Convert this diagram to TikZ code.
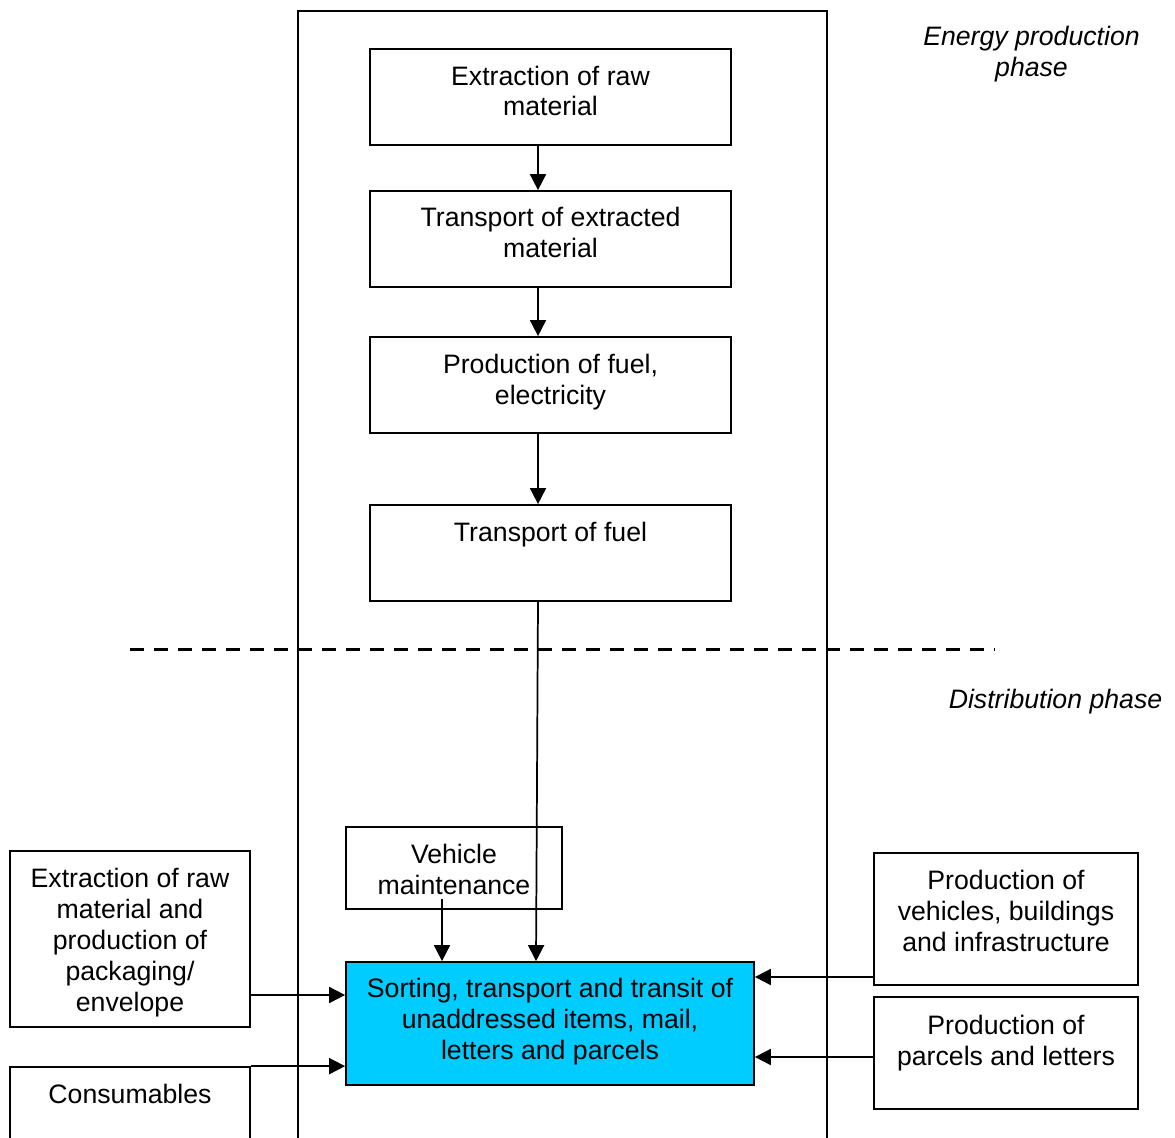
\documentclass[tikz,border=0pt]{standalone}
\usepackage{fontspec}
\setmainfont{Liberation Sans}
\usetikzlibrary{arrows.meta,fit}
\definecolor{cyanbox}{HTML}{00CCFF}
\begin{document}
\begin{tikzpicture}[x=0.75pt,y=-0.75pt,
  box/.style={draw, line width=1.3pt, inner sep=0pt},
  txt/.style={align=center, inner sep=0pt, font=\fontsize{20}{23.25}\selectfont, anchor=base},
  lbl/.style={align=center, inner sep=0pt, font=\fontsize{20}{23.25}\selectfont\itshape, anchor=base},
  arr/.style={line width=1.3pt, -{Triangle[length=12pt,width=12pt]}},
  phaseline/.style={dash pattern=on 10.5pt off 7.5pt, line width=2.25pt}
]
\useasboundingbox (0,0) rectangle (1175,1138);
\clip (0,0) rectangle (1175,1138);

% outer frame (open at the bottom)
\node[box, fit={(298,11) (827,1170)}] (frame) {};

% energy production chain
\node[box, fit={(370,49) (731,145)}] (b1) {};
\node[box, fit={(370,191) (731,287)}] (b2) {};
\node[box, fit={(370,337) (731,433)}] (b3) {};
\node[box, fit={(370,505) (731,601)}] (b4) {};
\node[txt] (t1) at (550.5,116) {Extraction of raw\\material};
\node[txt] (t2) at (550.5,257) {Transport of extracted\\material};
\node[txt] (t3) at (550.5,404) {Production of fuel,\\electricity};
\node[txt] (t4) at (550.5,541) {Transport of fuel};

% distribution phase boxes
\node[box, fit={(346,827) (562,909)}] (vm) {};
\node[txt] (tvm) at (454,894) {Vehicle\\maintenance};
\node[box, fill=cyanbox, fit={(346,962) (754,1085)}] (blue) {};
\node[txt] (tblue) at (550,1059) {Sorting, transport and transit of\\unaddressed items, mail,\\letters and parcels};
\node[box, fit={(10,851) (250,1027)}] (lb) {};
\node[txt] (tlb) at (130,1011) {Extraction of raw\\material and\\production of\\packaging/\\envelope};
\node[box, fit={(10,1067) (250,1170)}] (cons) {};
\node[txt] (tcons) at (130,1103) {Consumables};
\node[box, fit={(874,853) (1138,985)}] (r1) {};
\node[txt] (tr1) at (1006,951) {Production of\\vehicles, buildings\\and infrastructure};
\node[box, fit={(874,997) (1138,1109)}] (r2) {};
\node[txt] (tr2) at (1006,1065) {Production of\\parcels and letters};

% phase labels
\node[lbl] (energy) at (1031.5,77) {Energy production\\phase};
\node[lbl] (dist) at (1055.5,708) {Distribution phase};

% phase separator
\coordinate (d1) at (130,649);
\coordinate (d2) at (995,649);
\draw[phaseline] (d1) -- (d2);

% connectors
\coordinate (cx) at (538,0);
\coordinate (cx2) at (536,0);
\draw[arr] (b1.south -| cx) -- (b2.north -| cx);
\draw[arr] (b2.south -| cx) -- (b3.north -| cx);
\draw[arr] (b3.south -| cx) -- (b4.north -| cx);
\draw[arr] (b4.south -| cx) -- (blue.north -| cx2);
\coordinate (vmo) at (442,899);
\draw[arr] (vmo) -- (vmo |- blue.north);
\coordinate (ya) at (0,995);
\draw[arr] (lb.east |- ya) -- (blue.west |- ya);
\draw[arr] (cons.north east) -- (cons.north east -| blue.west);
\coordinate (yb) at (0,977);
\draw[arr] (r1.west |- yb) -- (blue.east |- yb);
\coordinate (yc) at (0,1057);
\draw[arr] (r2.west |- yc) -- (blue.east |- yc);
\end{tikzpicture}
\end{document}
